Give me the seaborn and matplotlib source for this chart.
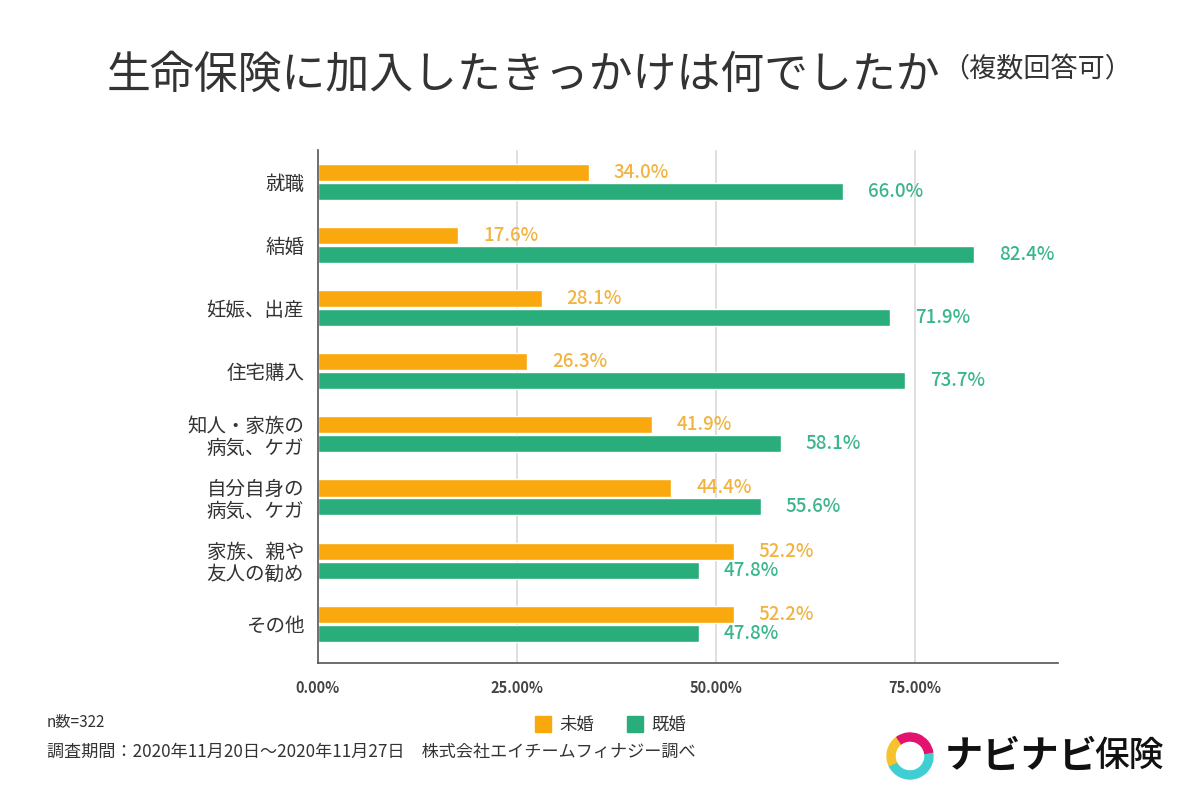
import matplotlib
matplotlib.use("Agg")
import matplotlib.pyplot as plt
from matplotlib.patches import Wedge
from matplotlib.lines import Line2D
import seaborn as sns
import pandas as pd

sns.set_theme(style="white")
plt.rcParams['font.family'] = ['Noto Sans CJK JP', 'DejaVu Sans']

categories = ["就職", "結婚", "妊娠、出産", "住宅購入", "知人・家族の\n病気、ケガ",
              "自分自身の\n病気、ケガ", "家族、親や\n友人の勧め", "その他"]
series_names = ["未婚", "既婚"]
unmarried = [34.0, 17.6, 28.1, 26.3, 41.9, 44.4, 52.2, 52.2]
married = [66.0, 82.4, 71.9, 73.7, 58.1, 55.6, 47.8, 47.8]
x_ticks = [0, 25, 50, 75]
x_tick_labels = ["0.00%", "25.00%", "50.00%", "75.00%"]

bar_colors = ["#F9A90D", "#28AD7B"]
label_colors = ["#F2B340", "#3BB68A"]

df = pd.DataFrame({
    "cat": categories * 2,
    "val": unmarried + married,
    "grp": [series_names[0]] * len(categories) + [series_names[1]] * len(categories),
})

fig = plt.figure(figsize=(12, 8.01), dpi=100)
ax = fig.add_axes([0.265, 0.1723, 0.617, 0.6404])

sns.barplot(data=df, y="cat", x="val", hue="grp", order=categories,
            hue_order=series_names, palette=bar_colors, orient="h",
            width=0.6, gap=0.1, ax=ax, legend=False, saturation=1)

for cont, col in zip(ax.containers, label_colors):
    ax.bar_label(cont, labels=[f"{v:.1f}%" for v in cont.datavalues],
                 padding=18, color=col, fontsize=13.5, fontweight="medium")

ax.set_xlim(0, 93)
ax.set_ylim(7.62, -0.5)
ax.set_xticks(x_ticks)
ax.set_xticklabels(x_tick_labels, fontsize=10.5, fontweight="bold", color="#444444")
ax.tick_params(axis="x", pad=12, length=0)
ax.tick_params(axis="y", pad=10, length=0)
for lbl in ax.get_yticklabels():
    lbl.set_fontsize(14)
    lbl.set_color("#333333")
    lbl.set_linespacing(1.05)
ax.set_xlabel("")
ax.set_ylabel("")
for x in x_ticks[1:]:
    ax.axvline(x, color="#D9D9D9", lw=1.2, zorder=0)
for s in ["top", "right"]:
    ax.spines[s].set_visible(False)
for s in ["left", "bottom"]:
    ax.spines[s].set_color("#555555")
    ax.spines[s].set_linewidth(1.2)

# Title
fig.text(107 / 1200, 1 - 75 / 801, "生命保険に加入したきっかけは何でしたか",
         fontsize=31.6, color="#333333", va="center", ha="left")
fig.text(942 / 1200, 1 - 70 / 801, "（複数回答可）",
         fontsize=19.5, color="#333333", va="center", ha="left")

# Legend
handles = [Line2D([], [], marker="s", ls="", markersize=11, color=c) for c in bar_colors]
fig.legend(handles, series_names, loc="center", bbox_to_anchor=(611 / 1200, 1 - 725 / 801),
           ncol=2, frameon=False, fontsize=12.5, handletextpad=0.5, handlelength=0.9,
           columnspacing=1.9, labelcolor="#333333")

# Footer
fig.text(47 / 1200, 1 - 722 / 801, "n数=322", fontsize=11, color="#333333", va="center")
fig.text(47 / 1200, 1 - 752 / 801,
         "調査期間：2020年11月20日～2020年11月27日　株式会社エイチームフィナジー調べ",
         fontsize=12.3, color="#333333", va="center")

# Logo
lax = fig.add_axes([0, 0, 1, 1], zorder=-1)
lax.set_xlim(0, 1200)
lax.set_ylim(0, 801)
lax.axis("off")
cx, cy, r = 910, 801 - 756, 23
lax.add_patch(Wedge((cx, cy), r, 205, 370, width=8, color="#3FCFD2"))
lax.add_patch(Wedge((cx, cy), r, 125, 205, width=8, color="#F6C22E"))
lax.add_patch(Wedge((cx, cy), r, 10, 125, width=8, color="#E4126F"))
fig.text(945 / 1200, 1 - 756 / 801, "ナビナビ", fontsize=27.5, fontweight="bold",
         color="#111111", va="center")
fig.text(1094 / 1200, 1 - 756 / 801, "保険", fontsize=25, fontweight="medium",
         color="#111111", va="center")

fig.savefig("out.png", dpi=100, facecolor="white")
